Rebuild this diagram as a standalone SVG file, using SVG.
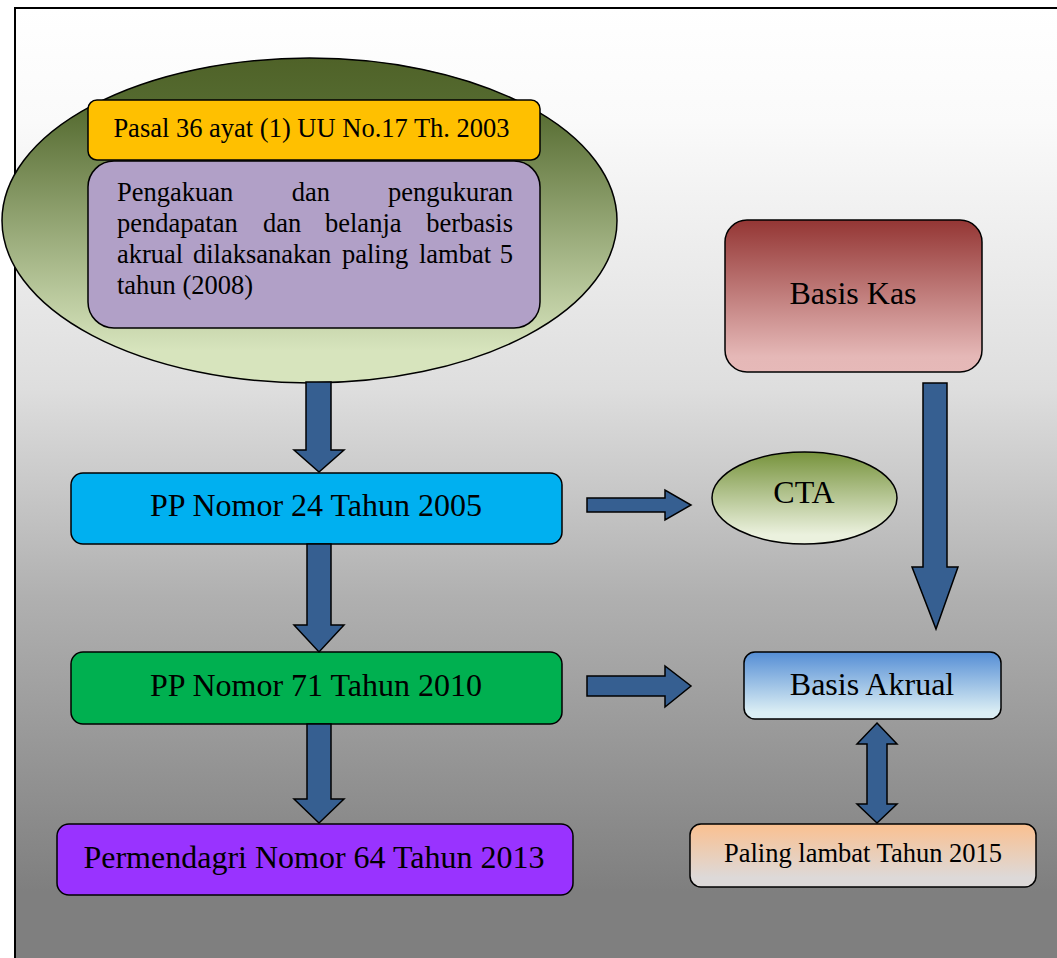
<svg xmlns="http://www.w3.org/2000/svg" width="1057" height="958" viewBox="0 0 1057 958">
<defs>
<linearGradient id="bg" gradientUnits="userSpaceOnUse" x1="0" y1="8" x2="0" y2="958">
<stop offset="0" stop-color="#ffffff"/>
<stop offset="0.12" stop-color="#fafafa"/>
<stop offset="0.4" stop-color="#dedede"/>
<stop offset="0.62" stop-color="#b0b0b0"/>
<stop offset="0.93" stop-color="#7f7f7f"/>
<stop offset="1" stop-color="#7f7f7f"/>
</linearGradient>
<linearGradient id="gOlive" x1="0" y1="0" x2="0" y2="1">
<stop offset="0" stop-color="#4f6228"/>
<stop offset="0.15" stop-color="#556b30"/>
<stop offset="0.9" stop-color="#d7e4bd"/>
<stop offset="1" stop-color="#d7e4bd"/>
</linearGradient>
<linearGradient id="gKas" x1="0" y1="0" x2="0" y2="1">
<stop offset="0" stop-color="#943634"/>
<stop offset="0.9" stop-color="#e5b8b7"/>
<stop offset="1" stop-color="#e6b9b8"/>
</linearGradient>
<linearGradient id="gCta" x1="0" y1="0" x2="0" y2="1">
<stop offset="0" stop-color="#77933c"/>
<stop offset="0.9" stop-color="#ebf1de"/>
<stop offset="1" stop-color="#ebf1de"/>
</linearGradient>
<linearGradient id="gAkrual" x1="0" y1="0" x2="0" y2="1">
<stop offset="0" stop-color="#558ed5"/>
<stop offset="0.9" stop-color="#dbeef4"/>
<stop offset="1" stop-color="#dbeef4"/>
</linearGradient>
<linearGradient id="gPaling" x1="0" y1="0" x2="0" y2="1">
<stop offset="0" stop-color="#fac090"/>
<stop offset="0.85" stop-color="#ddd9d8"/>
<stop offset="1" stop-color="#ddd9d8"/>
</linearGradient>
</defs>
<style>
.shape{stroke:#000;stroke-width:1.5}
.arrow{fill:#365f91;stroke:#000;stroke-width:1.5;stroke-linejoin:miter}
text{font-family:"Liberation Serif","Times New Roman",serif;fill:#000}
.big{font-size:32px}
.mid{font-size:26.5px}
.c{text-anchor:middle}
.e{text-anchor:end}
</style>
<rect x="15" y="8" width="1100" height="1000" fill="url(#bg)" stroke="#000" stroke-width="2"/>

<g id="node-uu">
<ellipse class="shape" cx="309.5" cy="220.5" rx="307.5" ry="162.5" fill="url(#gOlive)"/>
</g>
<g id="node-pasal">
<rect class="shape" x="88" y="100" width="452" height="60" rx="9" fill="#ffc000"/>
<text class="mid c" x="311.5" y="137">Pasal 36 ayat (1) UU No.17 Th. 2003</text>
</g>
<g id="node-pengakuan">
<rect class="shape" x="88" y="161" width="452" height="167" rx="26" fill="#b1a0c7"/>
<text class="mid" y="201"><tspan x="117">Pengakuan</tspan><tspan x="311" class="c">dan</tspan><tspan x="513" class="e">pengukuran</tspan></text>
<text class="mid" y="232"><tspan x="117">pendapatan</tspan><tspan x="263">dan</tspan><tspan x="325">belanja</tspan><tspan x="513" class="e">berbasis</tspan></text>
<text class="mid" y="263"><tspan x="117">akrual</tspan><tspan x="193">dilaksanakan</tspan><tspan x="342">paling</tspan><tspan x="419">lambat</tspan><tspan x="513" class="e">5</tspan></text>
<text class="mid" x="117" y="294">tahun (2008)</text>
</g>
<g id="node-pp24">
<rect class="shape" x="71" y="473" width="491" height="71" rx="12" fill="#00b0f0"/>
<text class="big c" x="316" y="516">PP Nomor 24 Tahun 2005</text>
</g>
<g id="node-pp71">
<rect class="shape" x="71" y="652" width="491" height="72" rx="12" fill="#00b050"/>
<text class="big c" x="316" y="696">PP Nomor 71 Tahun 2010</text>
</g>
<g id="node-permendagri">
<rect class="shape" x="57" y="824" width="516" height="71" rx="12" fill="#9933ff"/>
<text class="big c" x="314" y="868">Permendagri Nomor 64 Tahun 2013</text>
</g>
<g id="node-kas">
<rect class="shape" x="725" y="220" width="257" height="152" rx="22" fill="url(#gKas)"/>
<text class="big c" x="853" y="304">Basis Kas</text>
</g>
<g id="node-cta">
<ellipse class="shape" cx="804.5" cy="498" rx="92.5" ry="46" fill="url(#gCta)"/>
<text class="big c" x="804" y="503">CTA</text>
</g>
<g id="node-akrual">
<rect class="shape" x="744" y="652" width="257" height="67" rx="11" fill="url(#gAkrual)"/>
<text class="big c" x="872" y="695">Basis Akrual</text>
</g>
<g id="node-paling">
<rect class="shape" x="690" y="824" width="346" height="63" rx="11" fill="url(#gPaling)"/>
<text class="mid c" x="863" y="862">Paling lambat Tahun 2015</text>
</g>

<g id="connectors">
<polygon class="arrow" points="306,382 331,382 331,450 344,450 319,472 294,450 306,450"/>
<polygon class="arrow" points="307,544 331,544 331,625 344,625 319,652 294,625 307,625"/>
<polygon class="arrow" points="307,724 331,724 331,799 344,799 319,823 294,799 307,799"/>
<polygon class="arrow" points="587,498 665,498 665,490 691,505 665,520 665,512 587,512"/>
<polygon class="arrow" points="587,676 665,676 665,666 691,686 665,707 665,696 587,696"/>
<polygon class="arrow" points="923,383 947,383 947,567 958,567 936,629 912,567 923,567"/>
<polygon class="arrow" points="877,723 897,744 887,744 887,804 897,804 877,823 857,804 867,804 867,744 857,744"/>
</g>
</svg>
